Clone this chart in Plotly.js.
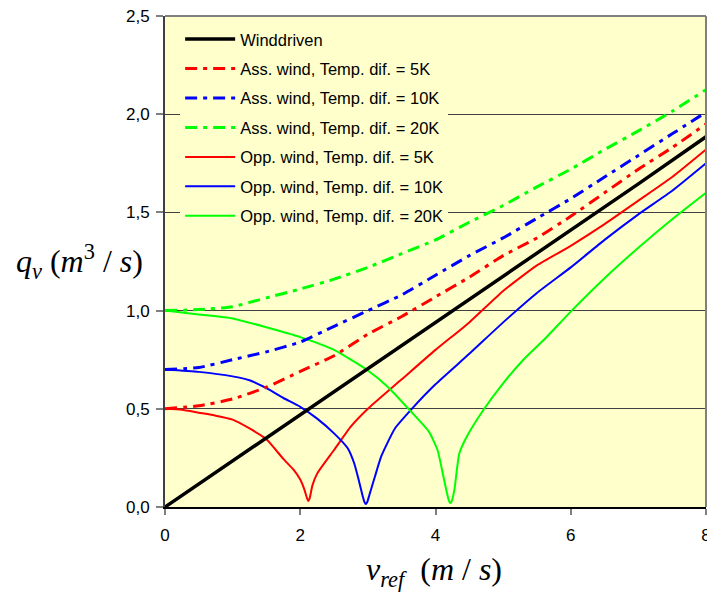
<!DOCTYPE html>
<html><head><meta charset="utf-8">
<script src="https://cdn.plot.ly/plotly-3.0.1.min.js"></script>
<style>body{margin:0;padding:0;background:#fff}#chart{width:707px;height:593px}</style>
</head><body><div id="chart"></div>
<script>
// Winddriven
const windX = [0, 1, 2, 3, 4, 4.75, 5, 6, 7, 8];
const windY = [0, 0.235, 0.47, 0.705, 0.94, 1.115, 1.175, 1.41, 1.645, 1.885];
// Assisting wind
const assX   = [0, 0.5, 1, 1.5, 2, 2.5, 3, 3.5, 4, 4.5, 5, 5.5, 6, 6.5, 7, 7.5, 8];
const ass5Y  = [0.50, 0.515, 0.55, 0.61, 0.69, 0.77, 0.88, 0.97, 1.07, 1.17, 1.28, 1.37, 1.48, 1.60, 1.72, 1.83, 1.95];
const ass10Y = [0.70, 0.71, 0.75, 0.79, 0.84, 0.92, 1.00, 1.08, 1.18, 1.28, 1.37, 1.47, 1.57, 1.68, 1.79, 1.90, 2.01];
const ass20Y = [1.00, 1.005, 1.02, 1.065, 1.11, 1.16, 1.22, 1.29, 1.36, 1.45, 1.535, 1.63, 1.72, 1.82, 1.915, 2.015, 2.125];
// Opposing wind
const opp5X  = [0, 0.25, 0.5, 0.75, 1.0, 1.25, 1.5, 1.75, 1.9, 2.0, 2.06, 2.1, 2.12, 2.14, 2.18, 2.25, 2.5, 2.75, 3.0, 3.5, 4.0, 4.5, 5.0, 5.5, 6.0, 6.5, 7.0, 7.5, 8.0];
const opp5Y  = [0.50, 0.495, 0.48, 0.465, 0.445, 0.40, 0.345, 0.245, 0.19, 0.14, 0.09, 0.045, 0.03, 0.045, 0.11, 0.17, 0.29, 0.41, 0.50, 0.65, 0.80, 0.94, 1.10, 1.23, 1.33, 1.44, 1.56, 1.68, 1.82];
const opp10X = [0, 0.5, 1.0, 1.25, 1.5, 1.75, 2.0, 2.25, 2.5, 2.7, 2.8, 2.87, 2.92, 2.95, 2.97, 2.99, 3.03, 3.1, 3.2, 3.4, 3.65, 4.0, 4.5, 5.0, 5.5, 6.0, 6.5, 7.0, 7.5, 8.0];
const opp10Y = [0.70, 0.688, 0.665, 0.645, 0.605, 0.555, 0.51, 0.45, 0.375, 0.30, 0.22, 0.13, 0.06, 0.025, 0.015, 0.025, 0.07, 0.15, 0.26, 0.40, 0.50, 0.625, 0.78, 0.94, 1.09, 1.22, 1.36, 1.49, 1.61, 1.75];
const opp20X = [0, 0.5, 1.0, 1.5, 2.0, 2.5, 3.0, 3.3, 3.6, 3.9, 4.03, 4.12, 4.17, 4.2, 4.22, 4.24, 4.28, 4.35, 4.45, 4.7, 5.0, 5.3, 5.6, 6.0, 6.5, 7.0, 7.5, 8.0];
const opp20Y = [1.00, 0.98, 0.96, 0.915, 0.865, 0.80, 0.695, 0.61, 0.50, 0.385, 0.29, 0.15, 0.07, 0.03, 0.02, 0.03, 0.09, 0.27, 0.35, 0.49, 0.63, 0.75, 0.85, 0.995, 1.165, 1.32, 1.465, 1.60];

const names = ['Winddriven', 'Ass. wind, Temp. dif. = 5K', 'Ass. wind, Temp. dif. = 10K', 'Ass. wind, Temp. dif. = 20K',
  'Opp. wind, Temp. dif. = 5K', 'Opp. wind, Temp. dif. = 10K', 'Opp. wind, Temp. dif. = 20K'];
const xTicks = [0, 2, 4, 6, 8];
const yTicks = [0, 0.5, 1.0, 1.5, 2.0, 2.5];

const dd = '12px,6px,4px,6px';
function tr(x, y, i, color, width, dash, shape) {
  return {x: x, y: y, name: names[i], type: 'scatter', mode: 'lines',
    line: {color: color, width: width, dash: dash, shape: shape || 'linear', smoothing: 0.5},
    legendgroup: 'g' + i, legendrank: i + 1};
}
const data = [
  tr(opp5X, opp5Y, 4, '#FF0000', 2, 'solid', 'spline'),
  tr(opp10X, opp10Y, 5, '#0000FF', 2, 'solid', 'spline'),
  tr(opp20X, opp20Y, 6, '#00FF00', 2, 'solid', 'spline'),
  tr(assX, ass5Y, 1, '#FF0000', 3, dd, 'spline'),
  tr(assX, ass10Y, 2, '#0000FF', 3, dd, 'spline'),
  tr(assX, ass20Y, 3, '#00FF00', 3, dd, 'spline'),
  tr(windX, windY, 0, '#000000', 3.5, 'solid')
];

const layout = {
  width: 707, height: 593,
  margin: {l: 165, r: 1, t: 16, b: 86, pad: 0},
  paper_bgcolor: '#FFFFFF', plot_bgcolor: '#FFFFCC',
  separators: ',.',
  font: {family: 'Arial, Liberation Sans, sans-serif', size: 16, color: '#000'},
  showlegend: true,
  legend: {x: 0.028, y: 0.988, xanchor: 'left', yanchor: 'top', bgcolor: '#FFFFCC', borderwidth: 0,
    font: {family: 'Arial, Liberation Sans, sans-serif', size: 16.5, color: '#000'},
    tracegroupgap: 5, itemwidth: 50},
  xaxis: {range: [0, 8], tickvals: xTicks, ticks: 'outside', ticklen: 6, tickcolor: '#808080', tickwidth: 2,
    showgrid: false, zeroline: false, showline: true, linecolor: '#000', linewidth: 2,
    tickfont: {size: 17}, ticklabeloverflow: 'allow', ticklabelstandoff: 6, fixedrange: true},
  yaxis: {range: [0, 2.5], tickvals: yTicks, tickformat: '.1f', ticks: 'outside', ticklen: 7, tickcolor: '#808080', tickwidth: 2,
    showgrid: true, gridcolor: '#404040', gridwidth: 1, zeroline: false, showline: true, linecolor: '#404040', linewidth: 2,
    tickfont: {size: 17}, ticklabeloverflow: 'allow', ticklabelstandoff: 3, fixedrange: true},
  shapes: [
    {type: 'line', xref: 'paper', yref: 'paper', x0: 0, x1: 1, y0: 1, y1: 1, line: {color: '#808080', width: 2}},
    {type: 'line', xref: 'paper', yref: 'paper', x0: 1, x1: 1, y0: 0, y1: 1, line: {color: '#808080', width: 2}}
  ],
  annotations: [
    {xref: 'paper', yref: 'paper', x: -0.158, y: 0.5, xanchor: 'center', yanchor: 'middle', showarrow: false,
      text: '<i>q</i><sub><i>v</i></sub> (<i>m</i><sup>3</sup> / <i>s</i>)',
      font: {family: 'Liberation Serif, Times New Roman, serif', size: 32, color: '#000'}},
    {xref: 'paper', yref: 'paper', x: 0.498, y: -0.132, xanchor: 'center', yanchor: 'middle', showarrow: false,
      text: '<i>v</i><sub><i>ref</i></sub>  (<i>m</i> / <i>s</i>)',
      font: {family: 'Liberation Serif, Times New Roman, serif', size: 32, color: '#000'}}
  ]
};
Plotly.newPlot('chart', data, layout, {displayModeBar: false, staticPlot: true});
</script></body></html>
